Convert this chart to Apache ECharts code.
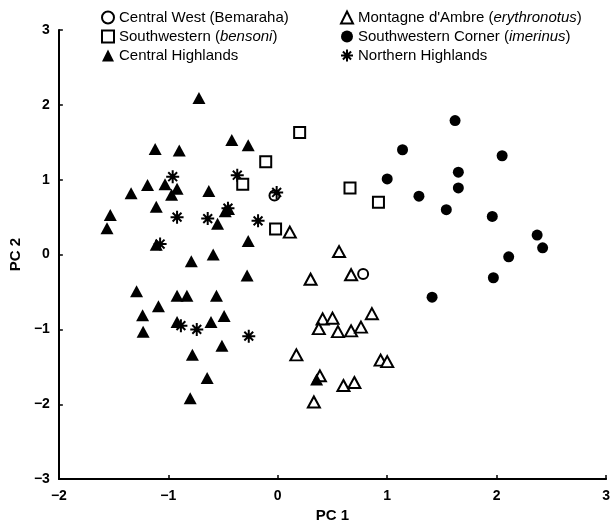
<!DOCTYPE html>
<html>
<head>
<meta charset="utf-8">
<script src="https://cdn.jsdelivr.net/npm/echarts@6/dist/echarts.min.js"></script>
<style>html,body{margin:0;padding:0;background:#fff}#c{width:613px;height:528px}</style>
</head>
<body>
<div id="c"></div>
<script>
var xTicks = [-2, -1, 0, 1, 2, 3];
var yTicks = [-3, -2, -1, 0, 1, 2, 3];

var seriesNames = ['Central West (Bemaraha)', 'Southwestern (bensoni)', 'Central Highlands',
  "Montagne d'Ambre (erythronotus)", 'Southwestern Corner (imerinus)', 'Northern Highlands'];

var centralWest = [[-0.03, 0.79], [0.78, -0.26]];
var southwestern = [[0.20, 1.63], [-0.11, 1.24], [-0.32, 0.94], [0.66, 0.89], [0.92, 0.70], [-0.02, 0.34]];
var centralHighlands = [
  [-0.72, 2.09], [-0.42, 1.53], [-0.27, 1.46], [-1.12, 1.41], [-0.90, 1.39],
  [-1.19, 0.93], [-1.03, 0.94], [-1.34, 0.82], [-0.97, 0.80], [-0.92, 0.88],
  [-0.63, 0.85], [-1.11, 0.64], [-1.53, 0.53], [-1.56, 0.35], [-0.48, 0.58],
  [-0.45, 0.61], [-0.55, 0.41], [-0.27, 0.18], [-1.11, 0.13], [-0.79, -0.09],
  [-0.59, 0.00], [-0.28, -0.28], [-1.29, -0.49], [-0.92, -0.55], [-0.83, -0.55],
  [-0.56, -0.55], [-1.09, -0.69], [-1.235, -0.81], [-0.49, -0.82], [-0.92, -0.90],
  [-0.61, -0.90], [-1.23, -1.03], [-0.51, -1.22], [-0.78, -1.34], [-0.645, -1.65],
  [-0.80, -1.92], [0.355, -1.67]
];
var montagne = [
  [0.11, 0.30], [0.56, 0.04], [0.67, -0.27], [0.30, -0.33], [0.86, -0.79],
  [0.41, -0.86], [0.50, -0.85], [0.375, -0.99], [0.55, -1.03], [0.67, -1.02],
  [0.76, -0.97], [0.17, -1.34], [0.94, -1.41], [1.00, -1.43], [0.385, -1.62],
  [0.60, -1.75], [0.70, -1.71], [0.33, -1.97]
];
var swCorner = [
  [1.62, 1.79], [1.14, 1.40], [2.05, 1.32], [1.65, 1.10], [1.65, 0.89],
  [1.29, 0.78], [1.54, 0.60], [1.96, 0.51], [2.37, 0.26], [2.42, 0.09],
  [2.11, -0.03], [1.97, -0.31], [1.41, -0.57], [1.00, 1.01]
];
var northern = [
  [-0.96, 1.04], [-0.37, 1.06], [-0.92, 0.50], [-0.64, 0.48], [-0.455, 0.62],
  [-0.18, 0.45], [-1.075, 0.14], [-0.885, -0.95], [-0.74, -1.00], [-0.265, -1.09],
  [-0.01, 0.83]
];

var FONT = 'Liberation Sans, Arial, sans-serif';
var asterisk = 'path://M5,0L5,10M0,5L10,5M1.6,1.6L8.4,8.4M1.6,8.4L8.4,1.6';
function fmt(v) { return v < 0 ? '\u2212' + Math.abs(v) : String(v); }

var richStyle = {
  n: { fontFamily: FONT, fontSize: 15, color: '#000' },
  i: { fontFamily: FONT, fontSize: 15, color: '#000', fontStyle: 'italic' }
};
function legendFmt(name) {
  var m = name.match(/^(.*\()([^)]*)(\).*)$/);
  if (m && (m[2] === 'bensoni' || m[2] === 'erythronotus' || m[2] === 'imerinus')) {
    return '{n|' + m[1] + '}{i|' + m[2] + '}{n|' + m[3] + '}';
  }
  return '{n|' + name + '}';
}
function legendCfg(left, names) {
  return {
    orient: 'vertical', left: left, top: 10, itemWidth: 12, itemHeight: 12, itemGap: 4,
    padding: 0, selectedMode: false, data: names, formatter: legendFmt,
    textStyle: { fontFamily: FONT, fontSize: 15, color: '#000', lineHeight: 15, rich: richStyle }
  };
}

var chart = echarts.init(document.getElementById('c'), null, { renderer: 'canvas' });
chart.setOption({
  animation: false,
  backgroundColor: '#fff',
  legend: [
    legendCfg(101, [seriesNames[0], seriesNames[1], seriesNames[2]]),
    legendCfg(340, [seriesNames[3], seriesNames[4], seriesNames[5]])
  ],
  grid: { left: 56, right: 4, top: 30, bottom: 45, containLabel: false },
  xAxis: {
    type: 'value', min: xTicks[0], max: xTicks[xTicks.length - 1], interval: 1,
    name: 'PC 1', nameLocation: 'middle', nameGap: 27,
    nameTextStyle: { fontFamily: FONT, fontSize: 15, fontWeight: 'bold', color: '#000' },
    axisLine: { show: true, onZero: false, lineStyle: { color: '#000', width: 2 } },
    axisTick: { show: true, inside: true, length: 4, lineStyle: { color: '#000', width: 1.5 } },
    axisLabel: { formatter: fmt, margin: 10, fontFamily: FONT, fontSize: 14, fontWeight: 'bold', color: '#000' },
    splitLine: { show: false }
  },
  yAxis: {
    type: 'value', min: yTicks[0], max: yTicks[yTicks.length - 1], interval: 1,
    name: 'PC 2', nameLocation: 'middle', nameGap: 34, nameRotate: 90,
    nameTextStyle: { fontFamily: FONT, fontSize: 15, fontWeight: 'bold', color: '#000' },
    axisLine: { show: true, onZero: false, lineStyle: { color: '#000', width: 2 } },
    axisTick: { show: true, inside: true, length: 4, lineStyle: { color: '#000', width: 1.5 } },
    axisLabel: { formatter: fmt, margin: 9, fontFamily: FONT, fontSize: 14, fontWeight: 'bold', color: '#000' },
    splitLine: { show: false }
  },
  series: [
    { name: seriesNames[3], type: 'scatter', data: montagne, symbol: 'triangle', symbolSize: [12, 11], z: 2,
      itemStyle: { color: '#fff', borderColor: '#000', borderWidth: 2, opacity: 1 } },
    { name: seriesNames[4], type: 'scatter', data: swCorner, symbol: 'circle', symbolSize: 11, z: 2,
      itemStyle: { color: '#000', opacity: 1 } },
    { name: seriesNames[2], type: 'scatter', data: centralHighlands, symbol: 'triangle', symbolSize: [13, 12], z: 3,
      itemStyle: { color: '#000', opacity: 1 } },
    { name: seriesNames[0], type: 'scatter', data: centralWest, symbol: 'circle', symbolSize: 10, z: 3,
      itemStyle: { color: '#fff', borderColor: '#000', borderWidth: 2, opacity: 1 } },
    { name: seriesNames[5], type: 'scatter', data: northern, symbol: asterisk, symbolSize: 13, z: 4,
      itemStyle: { color: 'rgba(0,0,0,0)', borderColor: '#000', borderWidth: 2, opacity: 1 } },
    { name: seriesNames[1], type: 'scatter', data: southwestern, symbol: 'rect', symbolSize: 11, z: 5,
      itemStyle: { color: '#fff', borderColor: '#000', borderWidth: 2, opacity: 1 } }
  ]
});
</script>
</body>
</html>
